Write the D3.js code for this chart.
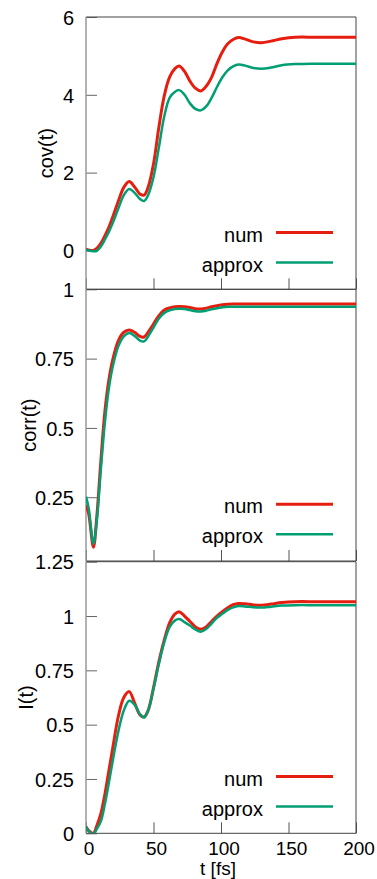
<!DOCTYPE html>
<html>
<head>
<meta charset="utf-8">
<script src="https://cdn.jsdelivr.net/npm/d3@7"></script>
<style>
  html, body { margin: 0; padding: 0; background: #fff; }
  svg { display: block; }
  text { font-family: "Liberation Sans", Arial, Helvetica, sans-serif; fill: #000; }
</style>
</head>
<body>
<div class="chart"></div>
<script>
// time grid (fs), shared by all curves
const t = [0, 2, 5.5, 8, 11, 14, 17, 20, 24, 28, 32, 36, 40, 43, 46, 50, 54, 58, 62, 66, 69, 73, 77, 81, 85, 89, 93, 97, 101, 105, 109, 113, 118, 124, 130, 137, 145, 155, 170, 185, 200];

// cov(t)
const covNum = [0.03, 0.01, 0.0, 0.05, 0.18, 0.38, 0.6, 0.88, 1.27, 1.62, 1.77, 1.63, 1.45, 1.42, 1.62, 2.22, 3.17, 3.98, 4.46, 4.68, 4.74, 4.6, 4.35, 4.17, 4.1, 4.22, 4.45, 4.8, 5.1, 5.31, 5.42, 5.47, 5.43, 5.36, 5.34, 5.38, 5.44, 5.48, 5.48, 5.48, 5.48];
const covApprox = [0.02, 0.0, -0.02, -0.01, 0.1, 0.28, 0.48, 0.72, 1.08, 1.42, 1.58, 1.48, 1.32, 1.27, 1.42, 1.88, 2.65, 3.45, 3.93, 4.08, 4.12, 4.0, 3.78, 3.64, 3.6, 3.7, 3.92, 4.2, 4.45, 4.63, 4.73, 4.78, 4.75, 4.69, 4.67, 4.7, 4.76, 4.79, 4.8, 4.8, 4.8];

// corr(t)
const corrNum = [0.222, 0.19, 0.07, 0.18, 0.38, 0.56, 0.675, 0.75, 0.815, 0.845, 0.853, 0.845, 0.83, 0.828, 0.845, 0.875, 0.905, 0.925, 0.933, 0.937, 0.938, 0.937, 0.934, 0.93, 0.929, 0.932, 0.937, 0.941, 0.944, 0.946, 0.947, 0.947, 0.947, 0.947, 0.947, 0.947, 0.947, 0.947, 0.947, 0.947, 0.947];
const corrApprox = [0.252, 0.21, 0.082, 0.165, 0.35, 0.52, 0.645, 0.725, 0.795, 0.83, 0.842, 0.832, 0.815, 0.812, 0.83, 0.862, 0.895, 0.915, 0.924, 0.929, 0.93, 0.929, 0.925, 0.921, 0.92, 0.923, 0.928, 0.932, 0.935, 0.937, 0.937, 0.937, 0.937, 0.937, 0.937, 0.937, 0.937, 0.937, 0.937, 0.937, 0.937];

// I(t)
const iNum = [0.03, 0.012, 0.0, 0.035, 0.09, 0.18, 0.29, 0.4, 0.54, 0.625, 0.652, 0.6, 0.545, 0.535, 0.565, 0.67, 0.79, 0.89, 0.97, 1.01, 1.02, 1.0, 0.975, 0.95, 0.939, 0.95, 0.975, 1.0, 1.02, 1.038, 1.052, 1.058, 1.056, 1.051, 1.05, 1.055, 1.062, 1.066, 1.066, 1.066, 1.066];
const iApprox = [0.03, 0.01, -0.003, 0.02, 0.055, 0.135, 0.235, 0.34, 0.47, 0.565, 0.61, 0.592, 0.548, 0.533, 0.565, 0.665, 0.78, 0.88, 0.95, 0.98, 0.986, 0.972, 0.956, 0.938, 0.928, 0.94, 0.965, 0.992, 1.01, 1.028, 1.04, 1.046, 1.044, 1.04, 1.039, 1.043, 1.048, 1.05, 1.05, 1.05, 1.05];

const xTicks = [0, 50, 100, 150, 200];
const seriesNames = ["num", "approx"];
const seriesColors = ["#e51e10", "#009e73"];
const seriesWidths = [3, 2.5];

const panels = [
    { label: "cov(t)", num: covNum, approx: covApprox, domain: [-1, 6], ticks: [0, 2, 4, 6], top: 17, bottom: 289.3, labelX: 52.5 },
    { label: "corr(t)", num: corrNum, approx: corrApprox, domain: [0.02, 1], ticks: [0.25, 0.5, 0.75, 1], top: 289.3, bottom: 561, labelX: 36 },
    { label: "I(t)", num: iNum, approx: iApprox, domain: [0, 1.25], ticks: [0, 0.25, 0.5, 0.75, 1, 1.25], top: 561.7, bottom: 833.3, labelX: 33 }
];

const width = 377;
const height = 879;
const left = 86;
const right = 356;

const svg = d3.select("div.chart")
    .append("svg")
    .attr("width", width)
    .attr("height", height);

const x = d3.scaleLinear().domain([0, 200]).range([left, right]);
const fmt = d3.format("~g");

panels.forEach(function (p, i) {
    const y = d3.scaleLinear().domain(p.domain).range([p.bottom, p.top]);
    const g = svg.append("g");

    // clip
    svg.append("clipPath").attr("id", "clip" + i)
        .append("rect")
        .attr("x", left).attr("y", p.top)
        .attr("width", right - left).attr("height", p.bottom - p.top);

    // y axis, ticks inward
    const ya = g.append("g")
        .attr("transform", "translate(" + left + ",0)")
        .call(d3.axisLeft(y).tickValues(p.ticks).tickFormat(fmt).tickSize(-11).tickPadding(12));
    ya.select(".domain").remove();
    ya.selectAll("line").attr("stroke", "#666");
    ya.selectAll("text")
        .attr("font-size", 20)
        .attr("font-family", null)
        .attr("dy", "0.36em");

    // x ticks at the bottom of every panel
    const xa = g.append("g")
        .attr("transform", "translate(0," + p.bottom + ")")
        .call(d3.axisBottom(x).tickValues(xTicks).tickSize(-11).tickPadding(8));
    xa.select(".domain").remove();
    xa.selectAll("line").attr("stroke", "#555");
    if (i === panels.length - 1) {
        xa.selectAll("text")
            .attr("font-size", 19)
            .attr("font-family", null)
            .attr("dx", 2.5)
            .attr("y", 22.2)
            .attr("dy", 0);
    } else {
        xa.selectAll("text").remove();
    }

    // border
    g.append("line").attr("x1", left).attr("x2", right).attr("y1", p.top).attr("y2", p.top).attr("stroke", "#444");
    g.append("line").attr("x1", left).attr("x2", right).attr("y1", p.bottom).attr("y2", p.bottom).attr("stroke", "#444");
    g.append("line").attr("x1", right).attr("x2", right).attr("y1", p.top).attr("y2", p.bottom).attr("stroke", "#444");
    g.append("line").attr("x1", left).attr("x2", left).attr("y1", p.top).attr("y2", p.bottom).attr("stroke", "#999").attr("stroke-width", 1.5);

    // curves
    const line = d3.line()
        .x(function (d, k) { return x(t[k]); })
        .y(function (d) { return y(d); })
        .curve(d3.curveCatmullRom.alpha(0.5));

    [p.num, p.approx].forEach(function (vals, s) {
        g.append("path")
            .datum(vals)
            .attr("clip-path", "url(#clip" + i + ")")
            .attr("fill", "none")
            .attr("stroke", seriesColors[s])
            .attr("stroke-width", seriesWidths[s])
            .attr("stroke-linejoin", "round")
            .attr("d", line);
    });

    // legend
    seriesNames.forEach(function (name, s) {
        const ly = p.bottom - 56.8 + s * 30;
        g.append("line")
            .attr("x1", 276).attr("x2", 333)
            .attr("y1", ly).attr("y2", ly)
            .attr("stroke", seriesColors[s])
            .attr("stroke-width", seriesWidths[s]);
        g.append("text")
            .attr("x", 263).attr("y", ly)
            .attr("dy", "0.45em")
            .attr("text-anchor", "end")
            .attr("font-size", 20)
            .text(name);
    });

    // y label
    g.append("text")
        .attr("transform", "translate(" + p.labelX + "," + ((p.top + p.bottom) / 2) + ") rotate(-90)")
        .attr("text-anchor", "middle")
        .attr("font-size", 20)
        .text(p.label);
});

svg.append("text")
    .attr("x", 218)
    .attr("y", 875)
    .attr("text-anchor", "middle")
    .attr("font-size", 19)
    .text("t [fs]");
</script>
</body>
</html>
